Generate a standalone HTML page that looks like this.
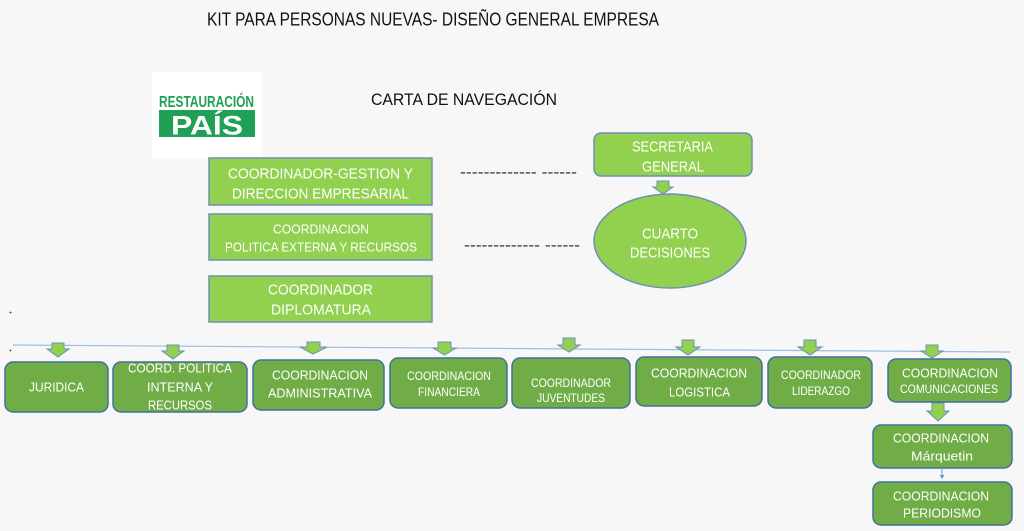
<!DOCTYPE html>
<html><head><meta charset="utf-8"><style>
html,body{margin:0;padding:0;background:#f7f7f7;}
svg{display:block;}
text{font-family:"Liberation Sans",sans-serif;}
.w{fill:#fff;text-anchor:start;}
</style></head><body>
<svg width="1024" height="531" viewBox="0 0 1024 531" xmlns="http://www.w3.org/2000/svg">
<rect width="1024" height="531" fill="#f7f7f7"/>
<!-- title -->
<text x="207" y="25.5" font-size="18" fill="#111" textLength="452" lengthAdjust="spacingAndGlyphs">KIT PARA PERSONAS NUEVAS- DISEÑO GENERAL EMPRESA</text>
<text x="371" y="105" font-size="17" fill="#111" textLength="186" lengthAdjust="spacingAndGlyphs">CARTA DE NAVEGACIÓN</text>
<!-- logo -->
<rect x="152" y="72" width="110" height="86" fill="#ffffff"/>
<text x="159" y="107" font-size="16" font-weight="bold" fill="#1fa055" textLength="95" lengthAdjust="spacingAndGlyphs">RESTAURACIÓN</text>
<rect x="159" y="110" width="96" height="27" fill="#1fa055"/>
<text x="171" y="134.5" font-size="27" font-weight="bold" fill="#fff" textLength="72" lengthAdjust="spacingAndGlyphs">PAÍS</text>

<!-- left boxes -->
<g fill="#92d050" stroke="#6e8fb6" stroke-width="1.5">
<rect x="209" y="158" width="223" height="47"/>
<rect x="209" y="214" width="223" height="46"/>
<rect x="209" y="276" width="223" height="46"/>
<rect x="594" y="133" width="158" height="43" rx="7"/>
<ellipse cx="670" cy="241" rx="76" ry="47"/>
</g>
<g class="w">
<text x="228" y="178.4" font-size="15" textLength="185" lengthAdjust="spacingAndGlyphs">COORDINADOR-GESTION  Y</text>
<text x="232" y="198.4" font-size="15" textLength="177" lengthAdjust="spacingAndGlyphs">DIRECCION EMPRESARIAL</text>
<text x="273" y="233.5" font-size="12.5" textLength="96" lengthAdjust="spacingAndGlyphs">COORDINACION</text>
<text x="225" y="251.5" font-size="12.5" textLength="192" lengthAdjust="spacingAndGlyphs">POLITICA  EXTERNA Y RECURSOS</text>
<text x="268" y="294.4" font-size="15" textLength="105" lengthAdjust="spacingAndGlyphs">COORDINADOR</text>
<text x="271" y="314.4" font-size="15" textLength="100" lengthAdjust="spacingAndGlyphs">DIPLOMATURA</text>
<text x="632" y="151.4" font-size="15" textLength="81" lengthAdjust="spacingAndGlyphs">SECRETARIA</text>
<text x="642" y="171.4" font-size="15" textLength="62" lengthAdjust="spacingAndGlyphs">GENERAL</text>
<text x="642" y="238.4" font-size="15" textLength="56" lengthAdjust="spacingAndGlyphs">CUARTO</text>
<text x="630" y="257.4" font-size="15" textLength="80" lengthAdjust="spacingAndGlyphs">DECISIONES</text>
</g>
<!-- dashes -->
<text x="460" y="177" font-size="15" fill="#222" textLength="117" lengthAdjust="spacingAndGlyphs">------------- ------</text>
<text x="464" y="250" font-size="15" fill="#222" textLength="116" lengthAdjust="spacingAndGlyphs">------------- ------</text>

<!-- dots -->
<circle cx="10.5" cy="312.5" r="0.9" fill="#333"/>
<circle cx="10.5" cy="350.5" r="0.9" fill="#333"/>

<!-- horizontal line -->
<line x1="13" y1="345" x2="1010" y2="352" stroke="#9dbde0" stroke-width="1.2"/>

<!-- arrows -->
<g fill="#92d050" stroke="#6e8fb6" stroke-width="1">
<polygon points="657,181 669,181 669,187 673,187 663,194 653,187 657,187"/>
<polygon points="52,343 64,343 64,349 69,349 58,357 47,349 52,349"/>
<polygon points="167,345 179,345 179,351 184,351 173,359 162,351 167,351"/>
<polygon points="307,342 320,342 320,347 327,347 313,354 300,347 307,347"/>
<polygon points="438,342 451,342 451,348 456,348 444.5,355 433,348 438,348"/>
<polygon points="563,338 575,338 575,345 580,345 569,352 558,345 563,345"/>
<polygon points="682,340 694,340 694,347 700,347 688,355 676,347 682,347"/>
<polygon points="804,340 816,340 816,347 822,347 810,355 798,347 804,347"/>
<polygon points="926,345 938,345 938,351 943,351 932,358 921,351 926,351"/>
<polygon points="932,403 944,403 944,411 949,411 938,421 927,411 932,411"/>
</g>
<!-- small blue arrow -->
<line x1="942" y1="469" x2="942" y2="476" stroke="#5b9bd5" stroke-width="1"/>
<polygon points="939.5,475 944.5,475 942,479" fill="#5b9bd5"/>

<!-- bottom boxes -->
<g fill="#70ad47" stroke="#41719c" stroke-width="1.5">
<rect x="5" y="362" width="103" height="50" rx="8"/>
<rect x="113" y="362" width="134" height="50" rx="8"/>
<rect x="253" y="360" width="131" height="50" rx="8"/>
<rect x="390" y="358" width="117" height="50" rx="8"/>
<rect x="512" y="358" width="118" height="50" rx="8"/>
<rect x="636" y="357" width="126" height="49" rx="8"/>
<rect x="768" y="357" width="104" height="51" rx="8"/>
<rect x="888" y="359" width="123" height="43" rx="8"/>
<rect x="873" y="425" width="139" height="43" rx="8"/>
<rect x="873" y="482" width="139" height="43" rx="8"/>
</g>
<g class="w">
<text x="29" y="391.7" font-size="13" textLength="55" lengthAdjust="spacingAndGlyphs">JURIDICA</text>
<text x="128" y="372.7" font-size="13" textLength="104" lengthAdjust="spacingAndGlyphs">COORD. POLITICA</text>
<text x="147" y="391.7" font-size="13" textLength="66" lengthAdjust="spacingAndGlyphs">INTERNA  Y</text>
<text x="148" y="409.7" font-size="13" textLength="64" lengthAdjust="spacingAndGlyphs">RECURSOS</text>
<text x="272" y="379.7" font-size="13" textLength="96" lengthAdjust="spacingAndGlyphs">COORDINACION</text>
<text x="268" y="397.7" font-size="13" textLength="104" lengthAdjust="spacingAndGlyphs">ADMINISTRATIVA</text>
<text x="407" y="380" font-size="11.5" textLength="84" lengthAdjust="spacingAndGlyphs">COORDINACION</text>
<text x="418" y="396" font-size="11.5" textLength="62" lengthAdjust="spacingAndGlyphs">FINANCIERA</text>
<text x="531" y="387" font-size="11.5" textLength="80" lengthAdjust="spacingAndGlyphs">COORDINADOR</text>
<text x="537" y="402" font-size="11.5" textLength="68" lengthAdjust="spacingAndGlyphs">JUVENTUDES</text>
<text x="651" y="377.7" font-size="13" textLength="96" lengthAdjust="spacingAndGlyphs">COORDINACION</text>
<text x="669" y="396.7" font-size="13" textLength="61" lengthAdjust="spacingAndGlyphs">LOGISTICA</text>
<text x="781" y="379" font-size="11.5" textLength="80" lengthAdjust="spacingAndGlyphs">COORDINADOR</text>
<text x="792" y="395" font-size="11.5" textLength="58" lengthAdjust="spacingAndGlyphs">LIDERAZGO</text>
<text x="902" y="377.7" font-size="13" textLength="96" lengthAdjust="spacingAndGlyphs">COORDINACION</text>
<text x="900" y="393" font-size="12" textLength="98" lengthAdjust="spacingAndGlyphs">COMUNICACIONES</text>
<text x="893" y="442.7" font-size="13" textLength="96" lengthAdjust="spacingAndGlyphs">COORDINACION</text>
<text x="911" y="460.7" font-size="13" textLength="62" lengthAdjust="spacingAndGlyphs">Márquetin</text>
<text x="893" y="500.7" font-size="13" textLength="96" lengthAdjust="spacingAndGlyphs">COORDINACION</text>
<text x="903" y="517.7" font-size="13" textLength="78" lengthAdjust="spacingAndGlyphs">PERIODISMO</text>
</g>
</svg>
</body></html>
